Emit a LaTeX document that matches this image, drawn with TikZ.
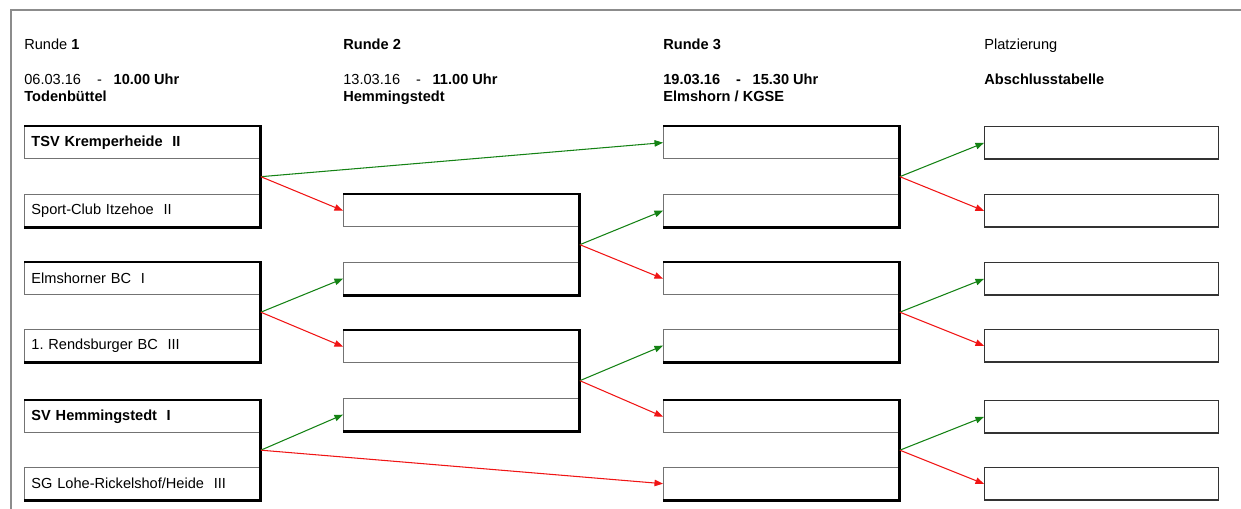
\documentclass[tikz,border=0pt]{standalone}
\usepackage{fontspec}
\setmainfont{Liberation Sans}
\usetikzlibrary{arrows.meta,calc}
\definecolor{wingreen}{RGB}{20,130,20}
\definecolor{losered}{RGB}{240,20,20}
\frenchspacing

\begin{document}
\begin{tikzpicture}[x=0.02cm, y=-0.02cm,
        every node/.style={font=\fontsize{8.3}{10}\selectfont},
        head/.style={anchor=base west, inner sep=0pt},
        slot/.style={draw=black!55, line width=0.5pt, anchor=north west, minimum width=4.72cm, minimum height=0.65cm, text width=4.44cm, align=left, inner xsep=0.14cm, inner ysep=0pt},
        place/.style={draw=black!80, line width=0.7pt, anchor=north west, minimum width=4.68cm, minimum height=0.65cm, inner sep=0pt},
        bracket/.style={draw=black, line width=1.6pt},
        win/.style={draw=wingreen, line width=0.6pt, -{Triangle[length=1.7mm,width=1.3mm]}},
        lose/.style={draw=losered, line width=0.6pt, -{Triangle[length=1.7mm,width=1.3mm]}}]
        \useasboundingbox (0,0) rectangle (1241,509);

        % Page frame
        \draw[black!45, line width=0.9pt] (11,509) -- (11,10) -- (1241,10);

        % Headers
        \node[head] (h1) at (24,50) {Runde \textbf{1}};
        \node[head] (d1) at (24,85) {06.03.16\hspace{1.1em}-\hspace{0.8em}\textbf{10.00 Uhr}};
        \node[head] (o1) at (24,102) {\textbf{Todenbüttel}};
        \node[head] (h2) at (343,50) {\textbf{Runde 2}};
        \node[head] (d2) at (343,85) {13.03.16\hspace{1.1em}-\hspace{0.8em}\textbf{11.00 Uhr}};
        \node[head] (o2) at (343,102) {\textbf{Hemmingstedt}};
        \node[head] (h3) at (663,50) {\textbf{Runde 3}};
        \node[head] (d3) at (663,85) {\textbf{19.03.16\hspace{1.1em}-\hspace{0.8em}15.30 Uhr}};
        \node[head] (o3) at (663,102) {\textbf{Elmshorn / KGSE}};
        \node[head] (h4) at (984,50) {Platzierung};
        \node[head] (d4) at (984,85) {\textbf{Abschlusstabelle}};

        % Round 1
        \node[slot] (t1) at (24,126) {\textbf{TSV Kremperheide\ \ II}};
        \node[slot] (t2) at (24,194) {Sport-Club Itzehoe\ \ II};
        \node[slot] (t3) at (24,262) {Elmshorner BC\ \ I};
        \node[slot] (t4) at (24,329) {1. Rendsburger BC\ \ III};
        \node[slot] (t5) at (24,400) {\textbf{SV Hemmingstedt\ \ I}};
        \node[slot] (t6) at (24,467) {SG Lohe-Rickelshof/Heide\ \ III};

        % Round 2
        \node[slot] (s1) at (343,194) {};
        \node[slot] (s2) at (343,262) {};
        \node[slot] (s3) at (343,330) {};
        \node[slot] (s4) at (343,398) {};

        % Round 3
        \node[slot] (q1) at (663,126) {};
        \node[slot] (q2) at (663,194) {};
        \node[slot] (q3) at (663,262) {};
        \node[slot] (q4) at (663,329) {};
        \node[slot] (q5) at (663,400) {};
        \node[slot] (q6) at (663,467) {};

        % Placements
        \node[place] (p1) at (984,126) {};
        \node[place] (p2) at (984,194) {};
        \node[place] (p3) at (984,262) {};
        \node[place] (p4) at (984,329) {};
        \node[place] (p5) at (984,400) {};
        \node[place] (p6) at (984,467) {};

        % Match brackets
        \draw[bracket] (t1.north west) -- (t1.north east) -- (t2.south east) -- (t2.south west);
        \draw[bracket] (t3.north west) -- (t3.north east) -- (t4.south east) -- (t4.south west);
        \draw[bracket] (t5.north west) -- (t5.north east) -- (t6.south east) -- (t6.south west);
        \draw[bracket] (s1.north west) -- (s1.north east) -- (s2.south east) -- (s2.south west);
        \draw[bracket] (s3.north west) -- (s3.north east) -- (s4.south east) -- (s4.south west);
        \draw[bracket] (q1.north west) -- (q1.north east) -- (q2.south east) -- (q2.south west);
        \draw[bracket] (q3.north west) -- (q3.north east) -- (q4.south east) -- (q4.south west);
        \draw[bracket] (q5.north west) -- (q5.north east) -- (q6.south east) -- (q6.south west);

        \coordinate (m1) at ($(t1.north east)!0.5!(t2.south east)$);
        \coordinate (m2) at ($(t3.north east)!0.5!(t4.south east)$);
        \coordinate (m3) at ($(t5.north east)!0.5!(t6.south east)$);
        \coordinate (m4) at ($(s1.north east)!0.5!(s2.south east)$);
        \coordinate (m5) at ($(s3.north east)!0.5!(s4.south east)$);
        \coordinate (m6) at ($(q1.north east)!0.5!(q2.south east)$);
        \coordinate (m7) at ($(q3.north east)!0.5!(q4.south east)$);
        \coordinate (m8) at ($(q5.north east)!0.5!(q6.south east)$);

        % Winners and losers
        \draw[win] (m1) -- (q1.west);
        \draw[lose] (m1) -- (s1.west);
        \draw[win] (m2) -- (s2.west);
        \draw[lose] (m2) -- (s3.west);
        \draw[win] (m3) -- (s4.west);
        \draw[lose] (m3) -- (q6.west);
        \draw[win] (m4) -- (q2.west);
        \draw[lose] (m4) -- (q3.west);
        \draw[win] (m5) -- (q4.west);
        \draw[lose] (m5) -- (q5.west);
        \draw[win] (m6) -- (p1.west);
        \draw[lose] (m6) -- (p2.west);
        \draw[win] (m7) -- (p3.west);
        \draw[lose] (m7) -- (p4.west);
        \draw[win] (m8) -- (p5.west);
        \draw[lose] (m8) -- (p6.west);
\end{tikzpicture}
\end{document}
